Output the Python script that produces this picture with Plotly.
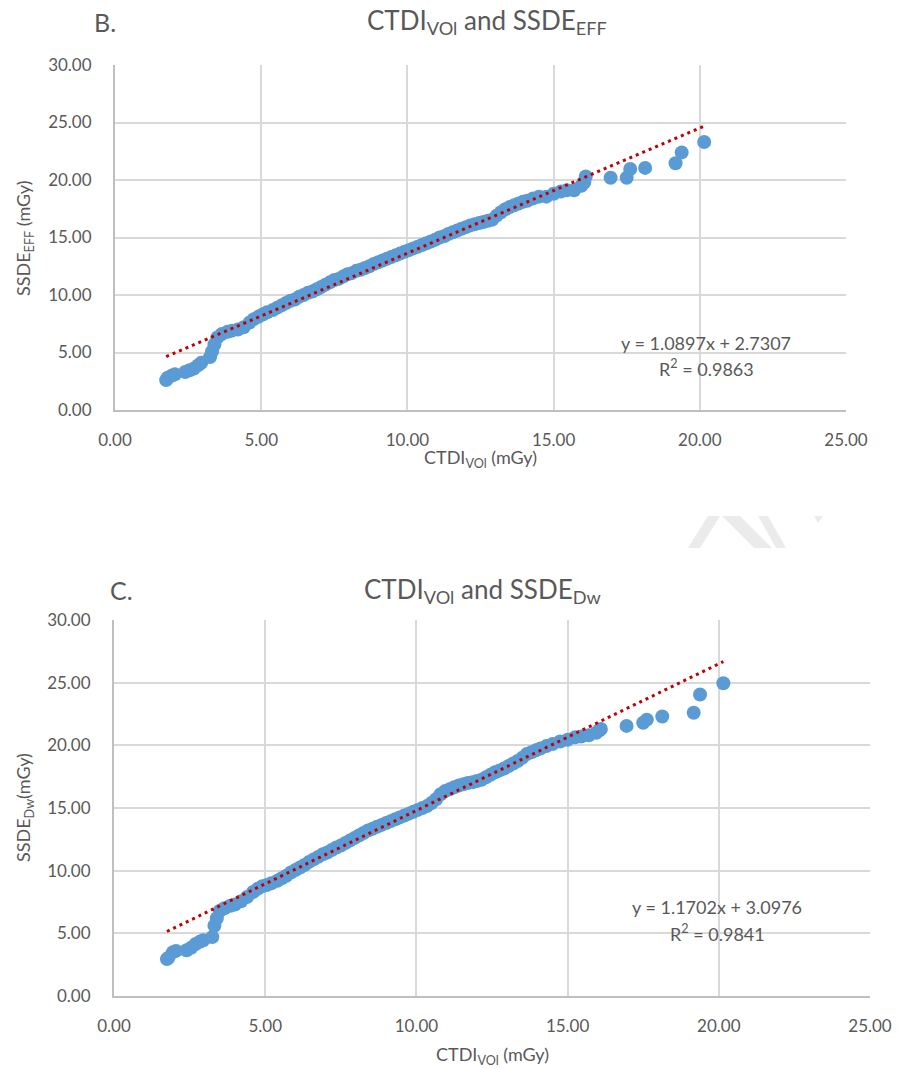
import plotly.graph_objects as go

# ---------------- data ----------------
ctdi_vol = [1.75, 1.80, 1.95, 2.05, 2.40, 2.55, 2.70, 2.85, 2.95, 3.25, 3.32, 3.40, 3.50, 3.65, 3.85,
            4.00, 4.20, 4.40, 4.60, 4.75, 4.90, 5.05, 5.20, 5.40, 5.55, 5.70, 5.85, 6.00, 6.15, 6.30,
            6.45, 6.60, 6.75, 6.90, 7.05, 7.20, 7.35, 7.50, 7.65, 7.80, 7.95, 8.10, 8.25, 8.40, 8.55,
            8.70, 8.85, 9.00, 9.15, 9.30, 9.45, 9.60, 9.75, 9.90, 10.05, 10.20, 10.35, 10.50, 10.65,
            10.80, 10.95, 11.10, 11.25, 11.40, 11.55, 11.70, 11.85, 12.00, 12.15, 12.30, 12.45, 12.60,
            12.75, 12.90, 13.05, 13.20, 13.35, 13.50, 13.65, 13.80, 13.95, 14.10, 14.30, 14.50, 14.75,
            15.00, 15.25, 15.45, 15.70, 15.95, 16.05, 16.10, 16.95, 17.50, 17.62, 18.13, 19.17, 19.38,
            20.15]

ssde_eff = [2.6, 2.8, 3.0, 3.1, 3.3, 3.45, 3.6, 3.9, 4.1, 4.6, 5.1, 5.7, 6.3, 6.6, 6.8,
            6.9, 7.0, 7.2, 7.6, 7.9, 8.1, 8.3, 8.5, 8.7, 8.9, 9.1, 9.3, 9.5, 9.6, 9.85,
            10.0, 10.2, 10.3, 10.5, 10.7, 10.9, 11.1, 11.3, 11.4, 11.6, 11.8, 11.9, 12.1, 12.2, 12.35,
            12.5, 12.7, 12.85, 13.0, 13.15, 13.3, 13.45, 13.6, 13.75, 13.9, 14.05, 14.2, 14.35, 14.5,
            14.65, 14.8, 15.0, 15.1, 15.3, 15.45, 15.6, 15.75, 15.9, 16.05, 16.15, 16.25, 16.35,
            16.45, 16.55, 16.9, 17.2, 17.45, 17.65, 17.8, 17.95, 18.1, 18.2, 18.4, 18.55, 18.55,
            18.8, 19.0, 19.1, 19.1, 19.5, 19.8, 20.3, 20.2, 20.2, 20.95, 21.05, 21.45, 22.4,
            23.3]

ssde_dw = [2.95, 3.05, 3.5, 3.6, 3.65, 3.85, 4.15, 4.35, 4.45, 4.7, 5.6, 6.2, 6.8, 7.0, 7.2,
           7.3, 7.55, 7.9, 8.3, 8.55, 8.75, 8.85, 9.0, 9.2, 9.4, 9.6, 9.85, 10.05, 10.25, 10.45,
           10.7, 10.9, 11.1, 11.3, 11.45, 11.65, 11.85, 12.0, 12.2, 12.4, 12.6, 12.8, 13.0, 13.2, 13.35,
           13.5, 13.65, 13.8, 13.95, 14.1, 14.25, 14.4, 14.55, 14.7, 14.85, 15.0, 15.15, 15.4, 15.7,
           16.1, 16.35, 16.5, 16.65, 16.8, 16.9, 17.0, 17.05, 17.15, 17.25, 17.45, 17.65, 17.85,
           18.0, 18.15, 18.35, 18.55, 18.75, 19.0, 19.3, 19.45, 19.6, 19.75, 19.95, 20.1, 20.3,
           20.45, 20.65, 20.7, 20.8, 21.0, 21.2, 21.3, 21.55, 21.8, 22.05, 22.3, 22.6, 24.05,
           24.95]

trend_x = [1.75, 20.15]
eff_slope, eff_intercept = 1.0897, 2.7307
dw_slope, dw_intercept = 1.1702, 3.0976

tick_vals = [0, 5, 10, 15, 20, 25, 30]

# ---------------- figure ----------------
W, H = 899, 1069
FONT = "Lato"
TXT = "#595959"
BLUE = "#5B9BD5"
RED = "#C00000"
GRID = "#D9D9D9"


def px(x):
    return x / W


def py(y):
    return 1 - y / H


fig = go.Figure()

# top chart
fig.add_trace(go.Scatter(x=ctdi_vol, y=ssde_eff, mode="markers",
                         marker=dict(color=BLUE, size=14, line=dict(width=0)),
                         xaxis="x", yaxis="y", showlegend=False))
fig.add_trace(go.Scatter(x=trend_x, y=[eff_slope * v + eff_intercept for v in trend_x],
                         mode="lines", line=dict(color=RED, width=3, dash="3px,4px"),
                         xaxis="x", yaxis="y", showlegend=False))
# bottom chart
fig.add_trace(go.Scatter(x=ctdi_vol, y=ssde_dw, mode="markers",
                         marker=dict(color=BLUE, size=14, line=dict(width=0)),
                         xaxis="x2", yaxis="y2", showlegend=False))
fig.add_trace(go.Scatter(x=trend_x, y=[dw_slope * v + dw_intercept for v in trend_x],
                         mode="lines", line=dict(color=RED, width=3, dash="3px,4px"),
                         xaxis="x2", yaxis="y2", showlegend=False))

axis_common = dict(range=[0, 25], dtick=5, tick0=0, tickformat=".2f",
                   showgrid=True, gridcolor=GRID, gridwidth=2,
                   zeroline=False, showline=True, linecolor="#BFBFBF", linewidth=2,
                   tickfont=dict(family=FONT, size=17, color=TXT), ticks="",
                   fixedrange=True, automargin=False)
yaxis_common = dict(axis_common)
yaxis_common.update(range=[0, 30], tickvals=tick_vals, dtick=None)

fig.update_layout(
    width=W, height=H,
    margin=dict(l=0, r=0, t=0, b=0, pad=0, autoexpand=False),
    paper_bgcolor="white", plot_bgcolor="white",
    xaxis=dict(axis_common, domain=[px(115), px(846)], anchor="y", ticklabelstandoff=14),
    yaxis=dict(yaxis_common, domain=[py(410), py(65)], anchor="x", ticklabelstandoff=18),
    xaxis2=dict(axis_common, domain=[px(114), px(870)], anchor="y2", ticklabelstandoff=14),
    yaxis2=dict(yaxis_common, domain=[py(996), py(620)], anchor="x2", ticklabelstandoff=18),
)

ann = []


def text(x, y, t, size, xanchor="center", angle=0):
    ann.append(dict(x=px(x), y=py(y), xref="paper", yref="paper", text=t, showarrow=False,
                    xanchor=xanchor, yanchor="middle", textangle=angle,
                    font=dict(family=FONT, size=size, color=TXT)))


# top chart texts
text(92, 22, "B.", 25, xanchor="left")
text(487, 22, "CTDI<sub>VOl</sub> and SSDE<sub>EFF</sub>", 26)
text(480, 458, "CTDI<sub>VOl</sub> (mGy)", 18)
text(24, 238, "SSDE<sub>EFF</sub> (mGy)", 18, angle=-90)
text(706, 343, "y = 1.0897x + 2.7307", 18)
text(706, 368, "R<sup>2</sup> = 0.9863", 18)

# bottom chart texts
text(108, 590, "C.", 25, xanchor="left")
text(482, 590, "CTDI<sub>VOl</sub> and SSDE<sub>Dw</sub>", 26)
text(492, 1055, "CTDI<sub>VOl</sub> (mGy)", 18)
text(24, 808, "SSDE<sub>Dw</sub>(mGy)", 18, angle=-90)
text(717, 907, "y = 1.1702x + 3.0976", 18)
text(717, 933, "R<sup>2</sup> = 0.9841", 18)

fig.update_layout(annotations=ann)

# faint watermark fragments between the charts
wm = [
    [(688, 548), (700, 548), (720, 516), (708, 516)],
    [(722, 516), (740, 516), (772, 548), (754, 548)],
    [(758, 516), (768, 516), (786, 548), (776, 548)],
    [(814, 516), (823, 516), (818, 523)],
]
shapes = []
for poly in wm:
    path = "M " + " L ".join(f"{px(a):.4f},{py(b):.4f}" for a, b in poly) + " Z"
    shapes.append(dict(type="path", path=path, xref="paper", yref="paper",
                       fillcolor="#EBEBEB", line=dict(width=0), layer="below"))
fig.update_layout(shapes=shapes)

fig.write_html("out.html", config={"displayModeBar": False},
               post_script="document.body.style.margin='0px';document.body.style.overflow='hidden';")
